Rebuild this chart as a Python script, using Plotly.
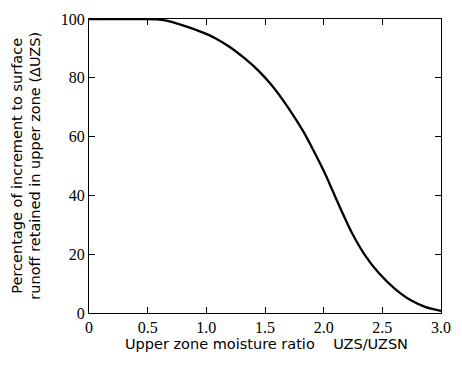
import plotly.graph_objects as go

ratio = [0.0, 0.3, 0.5, 0.58, 0.65, 0.8, 0.95, 1.08, 1.2, 1.33, 1.45, 1.55, 1.65, 1.72, 1.83, 1.91,
         2.02, 2.11, 2.18, 2.24, 2.35, 2.47, 2.6, 2.74, 2.87, 3.0]
percent = [100, 100, 100, 99.9, 99.5, 97.8, 95.7, 93.4, 90.5, 86.5, 82.2, 77.8, 72.6, 68.5, 61.5, 55.5,
           46.7, 38.5, 32.3, 27.3, 19.8, 13.6, 8.5, 4.4, 2.0, 0.7]

x_tickvals = [0, 0.5, 1.0, 1.5, 2.0, 2.5, 3.0]
x_ticktext = ["0", "0.5", "1.0", "1.5", "2.0", "2.5", "3.0"]
y_tickvals = [0, 20, 40, 60, 80, 100]
y_ticktext = ["0", "20", "40", "60", "80", "100"]

fig = go.Figure()
fig.add_trace(go.Scatter(x=ratio, y=percent, mode="lines",
                         line=dict(color="black", width=2.3, shape="spline", smoothing=0.6),
                         showlegend=False, hoverinfo="skip", cliponaxis=True))

axis_common = dict(showline=True, linecolor="black", linewidth=1.3, mirror="allticks",
                   ticks="inside", ticklen=6, tickcolor="black", tickwidth=1.2,
                   showgrid=False, zeroline=False,
                   tickfont=dict(family="Liberation Serif, Times New Roman, DejaVu Serif, serif",
                                 size=16, color="black"))

fig.update_xaxes(range=[0, 3.0], tickvals=x_tickvals, ticktext=x_ticktext, **axis_common)
fig.update_yaxes(range=[0, 100], tickvals=y_tickvals, ticktext=y_ticktext, **axis_common)

fig.add_annotation(text="Percentage of increment to surface<br>runoff retained in upper zone (ΔUZS)",
                   xref="paper", yref="paper", x=-0.18, y=0.5, textangle=-90,
                   showarrow=False, xanchor="center", yanchor="middle",
                   font=dict(family="DejaVu Sans", size=14.5, color="black"))
fig.add_annotation(text="Upper zone moisture ratio\u00a0\u00a0\u00a0\u00a0UZS/UZSN",
                   xref="paper", yref="paper", x=0.504, y=-0.107,
                   showarrow=False, xanchor="center", yanchor="middle",
                   font=dict(family="DejaVu Sans", size=14.5, color="black"))

fig.update_layout(width=462, height=367, margin=dict(l=89, r=11, t=15, b=54),
                  plot_bgcolor="white", paper_bgcolor="white")
fig.write_html("out.html", config={"displayModeBar": False},
               post_script="document.body.style.margin='0';document.body.style.padding='0';document.body.style.overflow='hidden';")
